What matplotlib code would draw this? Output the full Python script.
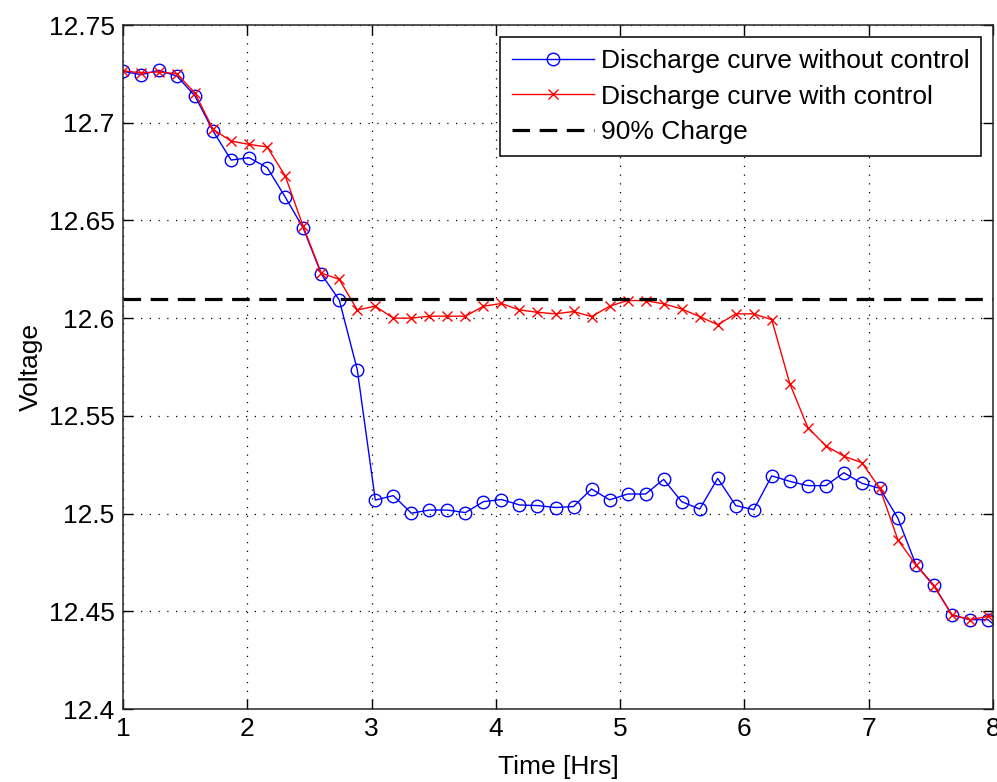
import matplotlib
matplotlib.use("Agg")
import matplotlib.pyplot as plt
import numpy as np

plt.rcParams['font.family'] = ['Liberation Sans', 'DejaVu Sans']

# sample index times (hours)
time_step = 0.145
n_points = 50
t = 1 + time_step * np.arange(n_points)

v_without = [12.7263, 12.7246, 12.7268, 12.7238, 12.7136, 12.6957, 12.6809, 12.6821,
             12.6770, 12.6620, 12.6461, 12.6226, 12.6093, 12.5736, 12.5069, 12.5092,
             12.5002, 12.5018, 12.5018, 12.5005, 12.5061, 12.5072, 12.5044, 12.5041,
             12.5031, 12.5036, 12.5126, 12.5070, 12.5100, 12.5100, 12.5175, 12.5061,
             12.5023, 12.5180, 12.5041, 12.5020, 12.5193, 12.5165, 12.5143, 12.5143,
             12.5209, 12.5155, 12.5129, 12.4976, 12.4738, 12.4633, 12.4480, 12.4457,
             12.4457, 12.4380]

v_with = [12.7266, 12.7255, 12.7260, 12.7250, 12.7150, 12.6966, 12.6906, 12.6889,
          12.6876, 12.6728, 12.6469, 12.6231, 12.6198, 12.6042, 12.6061, 12.6000,
          12.6000, 12.6010, 12.6010, 12.6010, 12.6061, 12.6075, 12.6042, 12.6030,
          12.6022, 12.6034, 12.6008, 12.6061, 12.6090, 12.6090, 12.6073, 12.6047,
          12.6008, 12.5966, 12.6022, 12.6022, 12.5992, 12.5665, 12.5440, 12.5347,
          12.5294, 12.5260, 12.5129, 12.4865, 12.4738, 12.4628, 12.4483, 12.4457,
          12.4474, 12.4465]

charge90 = 12.61

xticks = [1, 2, 3, 4, 5, 6, 7, 8]
yticks = [12.4, 12.45, 12.5, 12.55, 12.6, 12.65, 12.7, 12.75]
ytick_labels = ['12.4', '12.45', '12.5', '12.55', '12.6', '12.65', '12.7', '12.75']

fig = plt.figure(figsize=(9.97, 7.82), dpi=100)
ax = fig.add_axes([123/997, 1 - 709/782, (993 - 123)/997, (709 - 25)/782])

ax.plot(t, v_without, color='#0000ff', lw=1.0, marker='o', ms=9, mfc='none',
        mew=1.0, label='Discharge curve without control', clip_on=True)
ax.plot(t, v_with, color='#ff0000', lw=1.0, marker='x', ms=7, mew=1.0,
        label='Discharge curve with control', clip_on=True)
ax.axhline(charge90, color='black', lw=2.3, dashes=(5.5, 3.0), label='90% Charge')

ax.set_xlim(1, 8)
ax.set_ylim(12.4, 12.75)
ax.set_xticks(xticks)
ax.set_xticklabels([str(x) for x in xticks])
ax.set_yticks(yticks)
ax.set_yticklabels(ytick_labels)

ax.grid(True, color='black', linestyle=(0, (1, 6)), linewidth=0.9)
ax.tick_params(direction='in', length=7, width=1, top=True, right=True,
               labelsize=19, colors='black', pad=6)
for s in ax.spines.values():
    s.set_linewidth(1.1)
    s.set_color('#262626')

ax.set_xlabel('Time [Hrs]', fontsize=19, labelpad=10)
ax.set_ylabel('Voltage', fontsize=19, labelpad=4)

leg = ax.legend(loc='upper right', fontsize=19, frameon=True, fancybox=False,
                edgecolor='black', framealpha=1, borderaxespad=0.45,
                handlelength=3.1, handletextpad=0.25, borderpad=0.45,
                labelspacing=0.45)
leg.get_frame().set_linewidth(1.1)

fig.savefig('out.png', dpi=100)
